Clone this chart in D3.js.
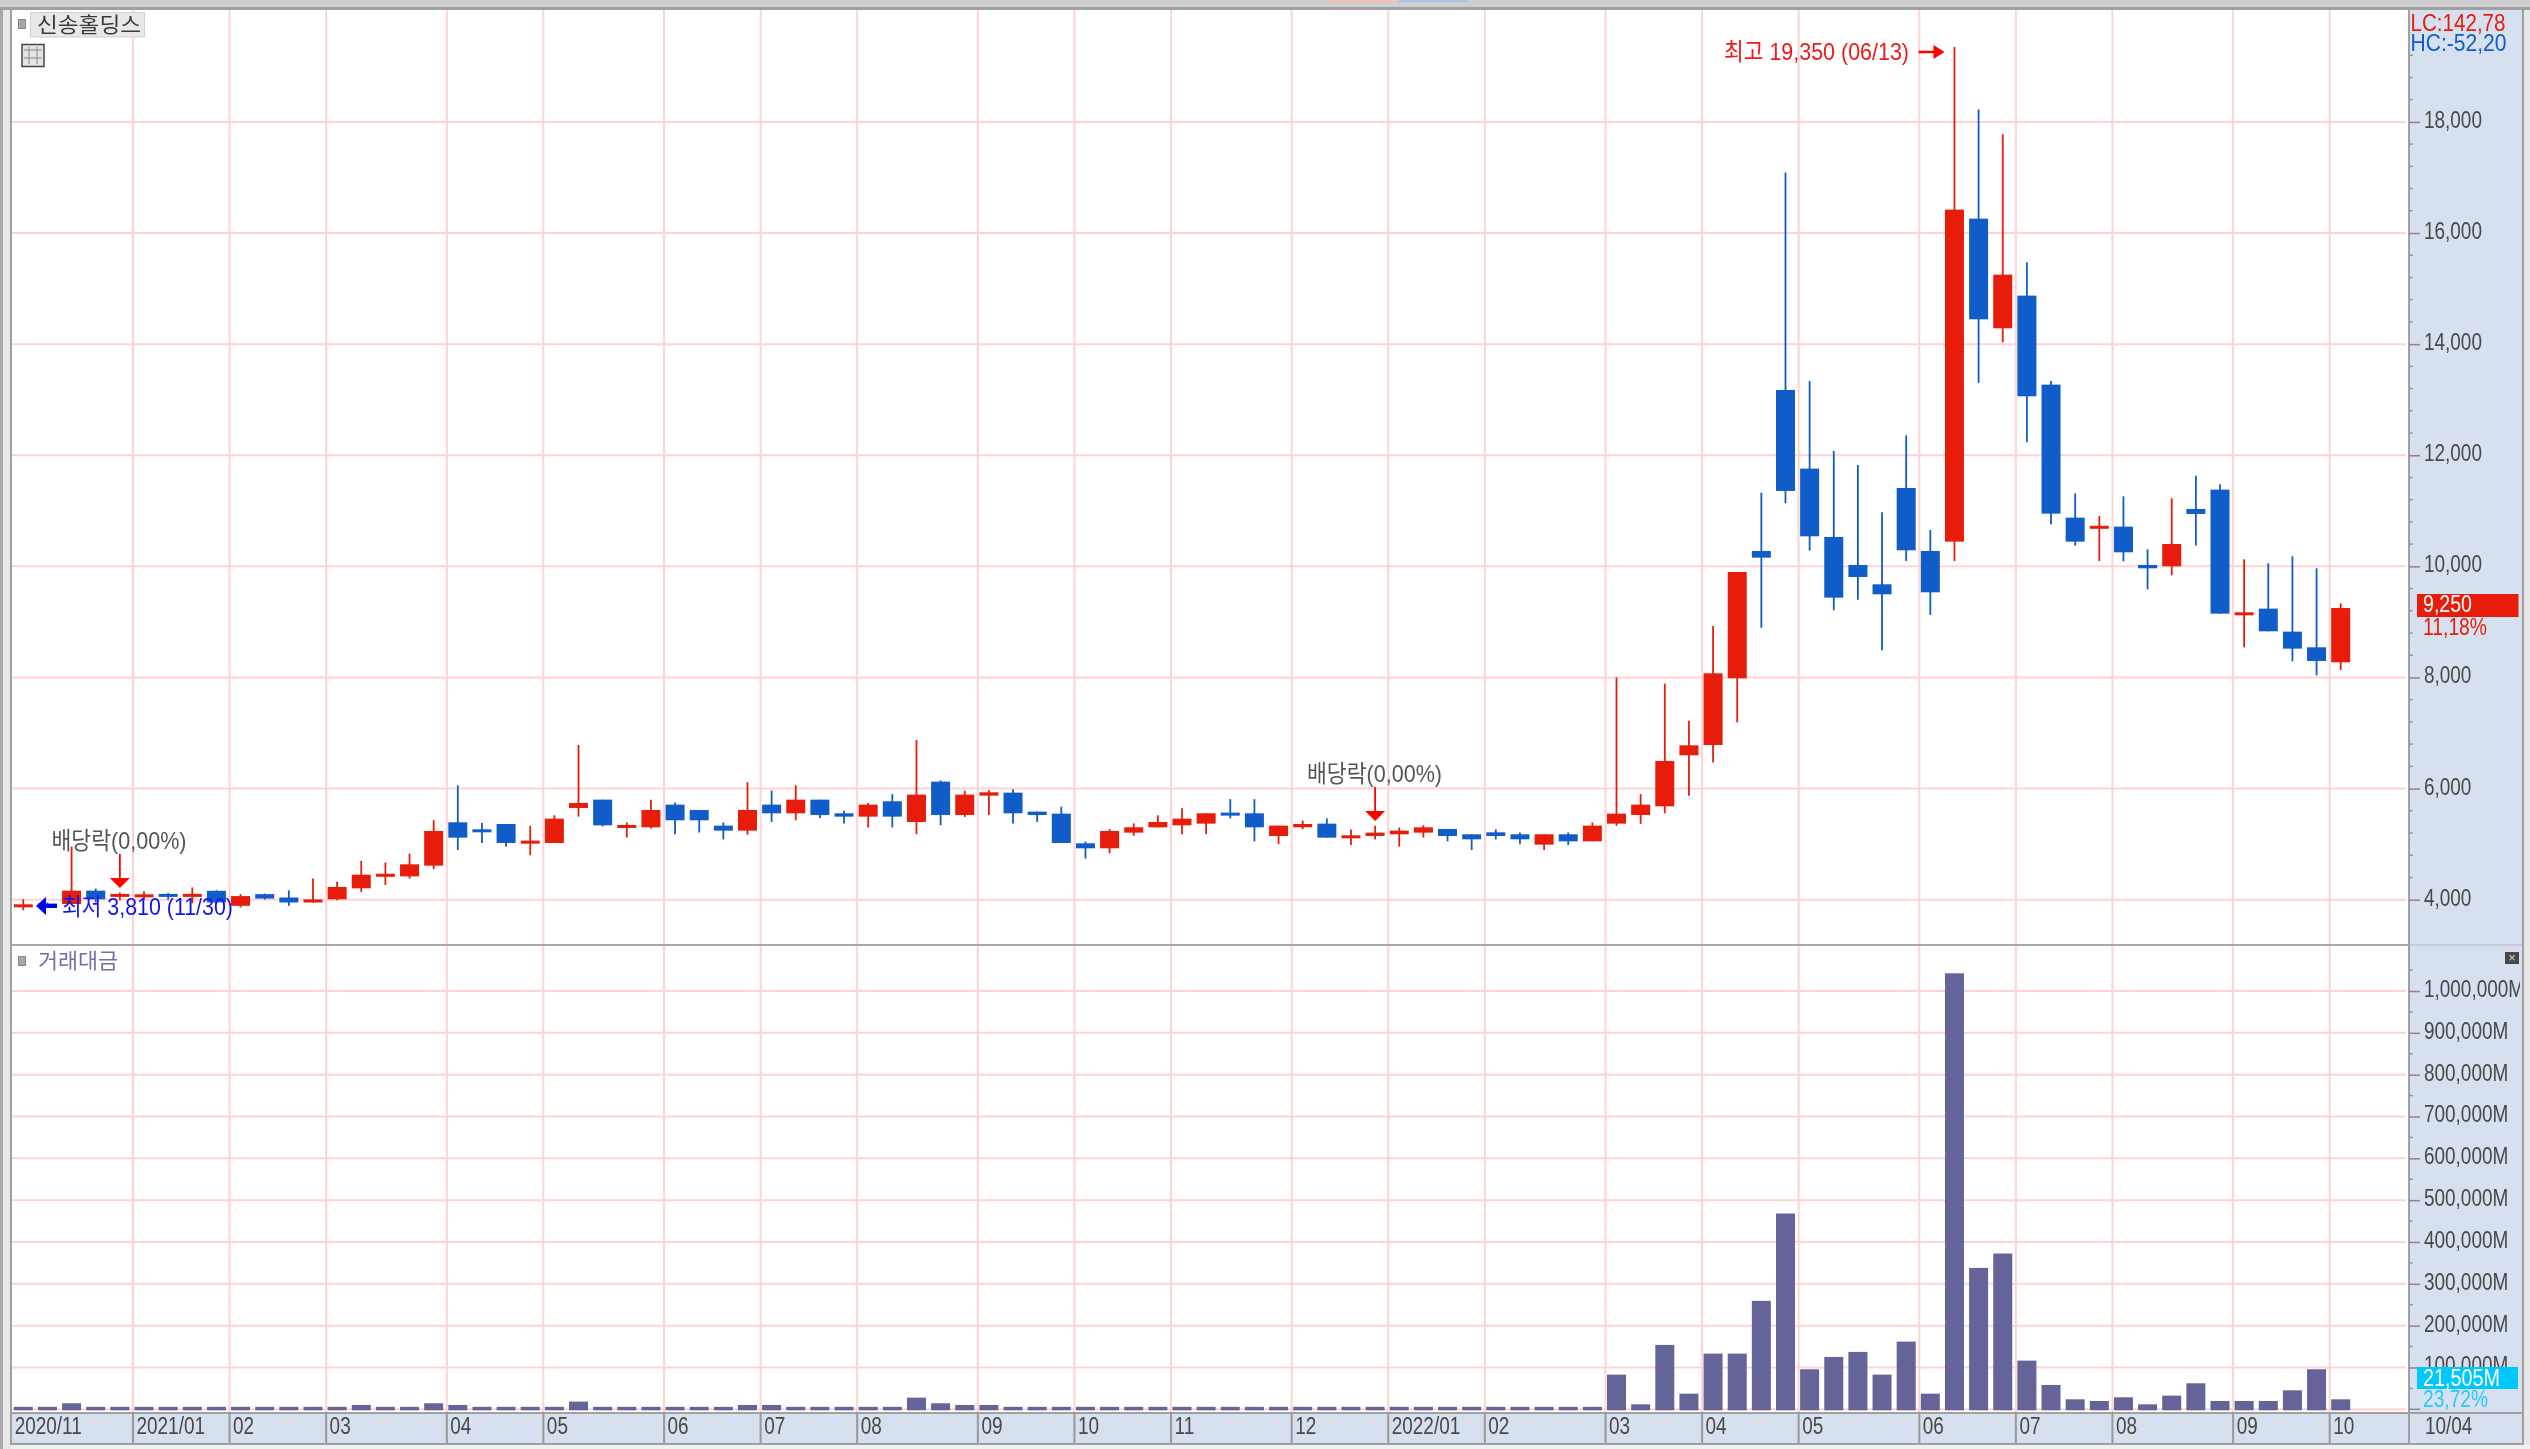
<!DOCTYPE html>
<html><head><meta charset="utf-8">
<script src="https://cdn.jsdelivr.net/npm/d3@7"></script>
<style>html,body{margin:0;padding:0;background:#e8e8e8;overflow:hidden}svg{display:block;filter:blur(0.55px)}</style>
</head><body><svg id="c" width="2530" height="1449"></svg>
<script>
const opens=[3870,3930,3923,4163,4055,4060,4100,4055,4160,3890,4100,4040,3950,4007,4205,4430,4420,4613,5393,5267,5363,5021,5021,5651,5801,5303,5303,5711,5615,5333,5243,5711,5555,5801,5555,5495,5771,5399,6125,5525,5873,5927,5585,5549,5015,4925,5207,5303,5339,5369,5555,5555,5147,5303,5369,5117,5147,5177,5207,5273,5177,5213,5177,4991,5177,5051,5369,5525,5681,6599,6785,7985,10277,13175,11759,10529,10025,9677,11411,10277,10445,16259,14285,14873,13271,10877,10691,10715,10025,10001,11033,11381,9119,9239,8825,8543,8273];
const closes=[3910,3880,4163,4007,4100,4080,4055,4100,3950,4065,4020,3950,4005,4229,4450,4450,4637,5237,5117,5213,5021,5051,5459,5741,5339,5333,5615,5429,5429,5243,5615,5555,5801,5525,5495,5711,5495,5891,5525,5891,5933,5555,5525,5021,4925,5237,5303,5399,5459,5555,5525,5303,5333,5363,5117,5147,5207,5243,5303,5147,5087,5147,5087,5177,5051,5333,5549,5711,6497,6779,8075,9899,10157,11357,10541,9437,9809,9497,10289,9533,16421,14447,15251,13061,10949,10445,10715,10253,9965,10403,10943,9149,9173,8831,8519,8297,9250];
const highs=[4010,3950,4955,4200,4130,4150,4120,4220,4170,4100,4110,4170,4380,4325,4700,4670,4830,5430,6060,5380,5363,5330,5520,6785,5801,5390,5800,5750,5615,5390,6115,5965,6060,5801,5600,5741,5900,6875,6150,5960,5975,5990,5585,5675,5045,5270,5375,5520,5645,5555,5810,5810,5333,5425,5465,5265,5330,5300,5340,5273,5177,5265,5210,5177,5210,5390,8000,5900,7890,7220,8925,9899,11325,17087,13337,12077,11825,10973,12359,10655,19350,18221,17777,15473,13337,11315,10907,11261,10307,11225,11633,11477,10127,10055,10181,9965,9335];
const lows=[3810,3850,3923,3950,3990,4000,4000,3935,3930,3860,4000,3890,3950,3990,4140,4265,4380,4553,4895,5020,4955,4800,5021,5495,5320,5120,5280,5180,5210,5085,5170,5400,5430,5470,5370,5300,5300,5180,5340,5490,5525,5370,5400,5021,4740,4835,5150,5303,5180,5180,5465,5050,5000,5270,5117,4985,5085,4955,5120,5050,4895,5085,5000,4895,4985,5051,5330,5365,5555,5870,6470,7193,8895,11135,10283,9209,9401,8489,10097,9125,10097,13307,14033,12233,10757,10373,10097,10091,9587,9839,10373,9149,8543,8831,8291,8039,8135];
const volumes=[3500,3500,12000,3500,3500,3500,3500,3500,3500,3500,3500,3500,3500,3500,8000,3500,3500,12000,8000,3500,3500,3500,3500,16000,3500,3500,3500,3500,3500,3500,8000,8000,3500,3500,3500,3500,3500,25500,12000,8000,8000,3500,3500,3500,3500,3500,3500,3500,3500,3500,3500,3500,3500,3500,3500,3500,3500,3500,3500,3500,3500,3500,3500,3500,3500,3500,80500,9500,151500,35000,130800,130800,256800,465700,93300,122800,134800,80500,159500,35000,1039900,335700,370000,114000,55800,21500,17500,26300,9500,30300,59800,17500,17500,17500,43000,93300,21505];
const monthIndex=[5,9,13,18,22,27,31,35,40,44,48,53,57,61,66,70,74,79,83,87,92,96];
const monthLabels=["2021/01","02","03","04","05","06","07","08","09","10","11","12","2022/01","02","03","04","05","06","07","08","09","10"];
const priceTicks=[4000,6000,8000,10000,12000,14000,16000,18000];
const priceMinor=[4400,4800,5200,5600,6400,6800,7200,7600,8400,8800,9200,9600,10400,10800,11200,11600,12400,12800,13200,13600,14400,14800,15200,15600,16400,16800,17200,17600,18400,18800,19200];
const volumeTicks=[0,100000,200000,300000,400000,500000,600000,700000,800000,900000,1000000];
const volumeMinor=[50000,150000,250000,350000,450000,550000,650000,750000,850000,950000,1050000];
const dividendIndex=[4,56];

const W=2530,H=1449,L=12,R=2409,T=10,DIV=945,VB=1412,SB=1443;
const RED="#e81c0a",BLUE="#105cc8",GRID="#ffd3d3",SANS='"Liberation Sans","Noto Sans CJK KR",sans-serif',KR='"Noto Sans CJK KR",sans-serif';
const svg=d3.select("#c");
const x=d3.scaleLinear().domain([0,96]).range([23.3,2340.7]);
const y=d3.scaleLinear().domain([4000,18000]).range([899.7,121.9]);
const v=d3.scaleLinear().domain([0,1000000]).range([1409.3,991]);
const rect=(a,b,w,h,f,s)=>svg.append("rect").attr("x",a).attr("y",b).attr("width",w).attr("height",h).attr("fill",f).attr("stroke",s||"none");
const label=(t,a,cy,w,col,size,fam)=>svg.append("text").text(t).attr("x",a).attr("y",cy).attr("dy",".35em").attr("fill",col).attr("font-family",fam||SANS).attr("font-size",size||23).attr("textLength",w).attr("lengthAdjust","spacingAndGlyphs");

// frame
rect(0,0,W,H,"#e8e8e8");
rect(0,0,3,H,"#a8a8a8");
rect(0,0,W,7,"#cfcfcf");
rect(0,7,W,3,"#a0a0a0");
rect(1327,0,68,2,"#f4c0b8");rect(1399,0,69,2,"#a8c4e4");
rect(L,T,R-L,VB-T,"#ffffff");
rect(R,T,2522-R,SB-T,"#d6e0ee");
rect(L,VB,R-L,SB-VB,"#d6e0ee");
rect(10,T,2,SB-T,"#a0a0a0");
rect(2522,T,2,SB-T,"#a0a0a0");
rect(10,SB,2514,2,"#a0a0a0");
rect(12,SB+2,2518,H-SB-2,"#f1f1f1");

// grid
const gridX=monthIndex.map(i=>x(i)-11);
svg.append("g").selectAll("line").data(gridX).join("line").attr("x1",d=>d).attr("x2",d=>d).attr("y1",T).attr("y2",VB).attr("stroke",GRID).attr("stroke-width",2);
svg.append("g").selectAll("line").data(priceTicks).join("line").attr("x1",L).attr("x2",R-3).attr("y1",d=>y(d)).attr("y2",d=>y(d)).attr("stroke",GRID).attr("stroke-width",2);
svg.append("g").selectAll("line").data(volumeTicks).join("line").attr("x1",L).attr("x2",R-3).attr("y1",d=>v(d)).attr("y2",d=>v(d)).attr("stroke",GRID).attr("stroke-width",2);

// panel divider
rect(L,DIV-1,R-L,2,"#a8a8a8");rect(R,DIV-1,2522-R,2,"#c4ccd8");
rect(L,VB,2510,2,"#a0a0a0");
rect(R-1,T,2,SB-T,"#a0a0a0");

// axes
function styleAxis(g,sx){
  g.select(".domain").remove();
  g.selectAll(".tick line").attr("stroke","#888").attr("stroke-width",1.5);
  g.selectAll(".tick text").attr("fill","#484848").attr("font-family",SANS).attr("font-size",24).attr("x",0).attr("dy",".33em").attr("text-anchor","start")
    .attr("transform","translate(15,-2.5) scale("+sx+",1)");
}
const priceAxis=d3.axisRight(y).tickValues(priceTicks).tickSize(11).tickFormat(d3.format(","));
svg.append("g").attr("transform","translate("+R+",0)").call(priceAxis).call(g=>styleAxis(g,.79));
svg.append("clipPath").attr("id","vc").append("rect").attr("x",R).attr("y",DIV).attr("width",2520-R).attr("height",VB-DIV);
const volAxis=d3.axisRight(v).tickValues(volumeTicks.slice(1)).tickSize(11).tickFormat(d=>d3.format(",")(d)+"M");
svg.append("g").attr("clip-path","url(#vc)").append("g").attr("transform","translate("+R+",0)").call(volAxis).call(g=>styleAxis(g,.79));
svg.append("line").attr("x1",R).attr("x2",R+11).attr("y1",v(0)).attr("y2",v(0)).attr("stroke","#888").attr("stroke-width",1.5);
svg.append("g").selectAll("line").data(priceMinor).join("line").attr("x1",R).attr("x2",R+4).attr("y1",d=>y(d)).attr("y2",d=>y(d)).attr("stroke","#999").attr("stroke-width",1.5);
svg.append("g").selectAll("line").data(volumeMinor).join("line").attr("x1",R).attr("x2",R+4).attr("y1",d=>v(d)).attr("y2",d=>v(d)).attr("stroke","#999").attr("stroke-width",1.5);

// time axis
const timeG=svg.append("g");
timeG.selectAll("line").data(gridX).join("line").attr("x1",d=>d).attr("x2",d=>d).attr("y1",VB).attr("y2",SB).attr("stroke","#999").attr("stroke-width",2);
const tl=(t,a)=>timeG.append("text").text(t).attr("transform","translate("+a+",1426) scale(.79,1)").attr("dy",".35em").attr("fill","#484848").attr("font-family",SANS).attr("font-size",24);
tl("2020/11",14.7);
monthLabels.forEach((t,i)=>tl(t,gridX[i]+3.5));
tl("10/04",2425);

// candles
const idx=d3.range(opens.length);
const col=i=>closes[i]>=opens[i]?RED:BLUE;
svg.append("g").selectAll("line").data(idx).join("line")
  .attr("x1",i=>x(i)).attr("x2",i=>x(i)).attr("y1",i=>y(highs[i])).attr("y2",i=>y(lows[i]))
  .attr("stroke",col).attr("stroke-width",1.8);
svg.append("g").selectAll("rect").data(idx).join("rect")
  .attr("x",i=>x(i)-9.5).attr("width",19)
  .attr("y",i=>{const t=y(Math.max(opens[i],closes[i])),b=y(Math.min(opens[i],closes[i]));return b-t<3?(t+b)/2-1.5:t;})
  .attr("height",i=>Math.max(3,Math.abs(y(opens[i])-y(closes[i]))))
  .attr("fill",col);

// volume bars
svg.append("g").selectAll("rect").data(idx).join("rect")
  .attr("x",i=>x(i)-9.5).attr("width",19)
  .attr("y",i=>v(volumes[i])-1).attr("height",i=>v(0)-v(volumes[i])+2)
  .attr("fill","#646498");

// price tags
rect(2417,594,101.5,23,"#e81c0a");
label("9,250",2423,604,49,"#ffffff",24);
label("11,18%",2423,627,64,RED,24);
rect(2417,1367,101,22,"#00c8ff");
label("21,505M",2423,1378,77,"#ffffff",24);
label("23,72%",2423,1399,65,"#28c8f8",24);
label("LC:142,78",2410.5,22.5,95,RED,24);
label("HC:-52,20",2410.5,43,96,BLUE,24);

// annotations
label("최고 19,350 (06/13)",1724,52,185,"#f01818",24);
svg.append("path").attr("d","M1918.5,50.8H1933.5V45L1944.5,52L1933.5,59V53.2H1918.5Z").attr("fill","#ff0000");
label("최저 3,810 (11/30)",62,906.7,171,"#1414e8",24);
svg.append("path").attr("d","M36,906L46,897V904H57V908H46V915Z").attr("fill","#0000f0");
const divTop={4:854,56:787},divText={4:[51.5,840.7],56:[1307,774]};
dividendIndex.forEach(i=>{
  const xx=x(i),t=divTop[i],tip=i===4?888:821;
  svg.append("line").attr("x1",xx).attr("x2",xx).attr("y1",t).attr("y2",tip-10).attr("stroke","#f00").attr("stroke-width",1.8);
  svg.append("path").attr("d","M"+(xx-10)+","+(tip-10)+"H"+(xx+10)+"L"+xx+","+tip+"Z").attr("fill","#f00");
  label("배당락(0,00%)",divText[i][0],divText[i][1],135,"#555",24);
});

// header controls
rect(30.5,12.5,114,24.5,"#e8e8e8","#cfcfcf");
label("신송홀딩스",37,25,104,"#3a3a3a",21,KR);
rect(18.5,19.5,7,9,"#a8a8a8","#888");
rect(22,44.5,22,22,"#e4e4e4","#444").attr("stroke-width",1.5);
[29,37].forEach(a=>svg.append("line").attr("x1",a).attr("x2",a).attr("y1",47).attr("y2",64).attr("stroke","#888"));
[50,58].forEach(b=>svg.append("line").attr("x1",24).attr("x2",42).attr("y1",b).attr("y2",b).attr("stroke","#888"));
rect(18.5,956.5,7,9,"#a8a8a8","#888");
label("거래대금",38,961,80,"#7070a8",21,KR);
rect(2505,952,14,12,"#484848");
svg.append("text").text("×").attr("x",2512).attr("y",962).attr("text-anchor","middle").attr("fill","#ddd").attr("font-size",13).attr("font-family",SANS);
</script></body></html>
